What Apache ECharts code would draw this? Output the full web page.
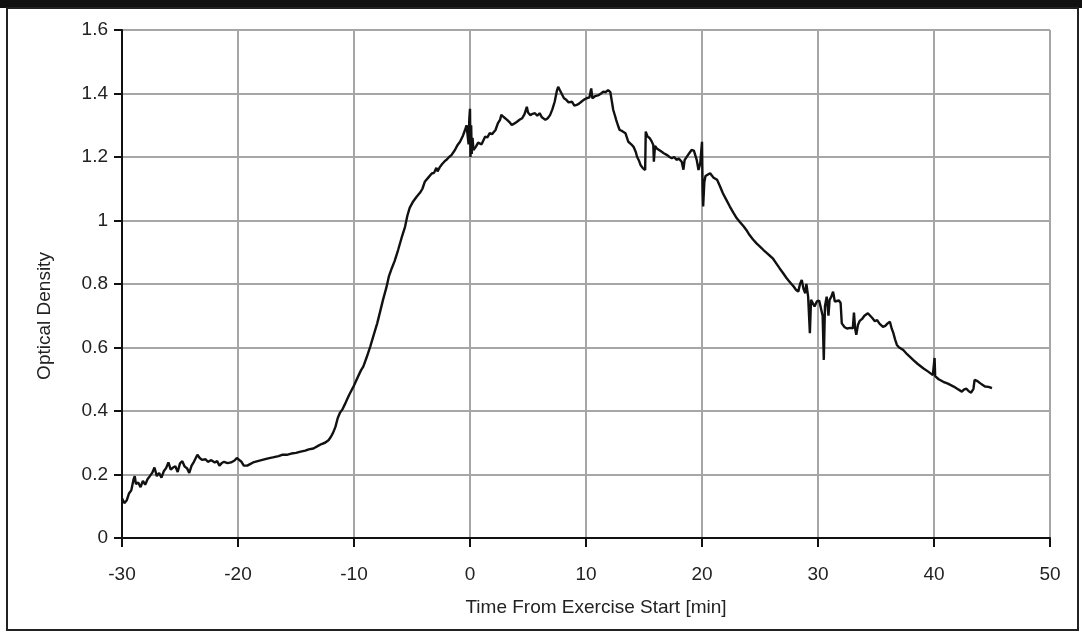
<!DOCTYPE html>
<html>
<head>
<meta charset="utf-8">
<script src="https://cdn.jsdelivr.net/npm/echarts@6/dist/echarts.min.js"></script>
<style>
  html, body { margin: 0; padding: 0; background: #fff; }
  #chart { width: 1082px; height: 632px; }
</style>
</head>
<body>
<div id="chart"></div>
<script>
// Time axis (minutes from exercise start) and measured optical density
const timeMin = [
  -30.0, -29.8, -29.6, -29.4, -29.2, -29.0, -28.9, -28.8, -28.6, -28.4, -28.2, -28.0,
  -27.8, -27.6, -27.4, -27.2, -27.0, -26.8, -26.6, -26.4, -26.2, -26.0, -25.8, -25.6,
  -25.4, -25.2, -25.0, -24.8, -24.6, -24.4, -24.2, -24.0, -23.8, -23.5, -23.3, -23.1,
  -22.8, -22.6, -22.3, -22.0, -21.8, -21.6, -21.4, -21.2, -20.9, -20.6, -20.3, -20.1,
  -19.9, -19.7, -19.5, -19.2, -19.0, -18.7, -18.3, -17.9, -17.4, -17.0, -16.5, -16.2,
  -15.8, -15.4, -15.0, -14.6, -14.2, -13.9, -13.5, -13.1, -12.8, -12.5, -12.2, -12.0,
  -11.8, -11.6, -11.4, -11.2, -11.0, -10.8, -10.6, -10.4, -10.2, -10.0, -9.7, -9.4,
  -9.2, -8.9, -8.6, -8.3, -8.0, -7.7, -7.5, -7.2, -7.0, -6.75, -6.5, -6.2,
  -5.9, -5.6, -5.4, -5.2, -4.9, -4.6, -4.3, -4.1, -3.9, -3.6, -3.3, -3.1,
  -2.9, -2.8, -2.6, -2.4, -2.2, -2.0, -1.8, -1.6, -1.3, -1.1, -0.86, -0.6,
  -0.43, -0.3, -0.2, -0.12, -0.06, 0.0, 0.04, 0.1, 0.15, 0.22, 0.3, 0.5,
  0.7, 0.86, 1.0, 1.3, 1.5, 1.7, 1.9, 2.2, 2.4, 2.6, 2.7, 2.9,
  3.2, 3.4, 3.6, 3.8, 4.05, 4.3, 4.5, 4.7, 4.9, 5.0, 5.2, 5.4,
  5.6, 5.8, 6.0, 6.2, 6.5, 6.7, 6.9, 7.1, 7.3, 7.5, 7.6, 7.75,
  7.9, 8.1, 8.3, 8.5, 8.8, 9.0, 9.2, 9.4, 9.6, 9.8, 10.05, 10.3,
  10.45, 10.55, 10.8, 11.1, 11.3, 11.5, 11.7, 11.9, 12.1, 12.2, 12.35, 12.5,
  12.6, 12.75, 12.9, 13.1, 13.4, 13.65, 13.9, 14.1, 14.3, 14.4, 14.55, 14.7,
  14.9, 15.1, 15.15, 15.3, 15.5, 15.65, 15.8, 15.85, 15.95, 16.1, 16.3, 16.5,
  16.7, 17.0, 17.2, 17.4, 17.6, 17.8, 18.0, 18.25, 18.4, 18.5, 18.7, 18.9,
  19.1, 19.3, 19.4, 19.55, 19.7, 19.85, 20.0, 20.05, 20.1, 20.2, 20.3, 20.45,
  20.7, 20.8, 21.0, 21.3, 21.55, 21.8, 22.1, 22.4, 22.7, 23.0, 23.3, 23.6,
  23.9, 24.1, 24.4, 24.7, 25.0, 25.3, 25.6, 25.85, 26.1, 26.4, 26.7, 27.0,
  27.3, 27.6, 27.9, 28.1, 28.3, 28.45, 28.6, 28.75, 28.9, 29.0, 29.15, 29.3,
  29.4, 29.55, 29.7, 29.9, 30.1, 30.2, 30.4, 30.5, 30.6, 30.75, 30.9, 31.0,
  31.15, 31.3, 31.45, 31.6, 31.8, 31.95, 32.05, 32.3, 32.5, 32.8, 33.0, 33.1,
  33.2, 33.3, 33.45, 33.6, 33.8, 34.0, 34.3, 34.5, 34.7, 34.9, 35.1, 35.3,
  35.6, 35.8, 36.0, 36.2, 36.35, 36.5, 36.65, 36.8, 37.0, 37.35, 37.7, 38.0,
  38.2, 38.6, 39.1, 39.5, 39.9, 40.0, 40.05, 40.1, 40.4, 40.8, 41.2, 41.7,
  42.0, 42.4, 42.6, 42.8, 43.0, 43.2, 43.4, 43.5, 43.7, 44.0, 44.2, 44.4,
  44.7, 45.0
];

const opticalDensity = [
  0.125, 0.110, 0.118, 0.140, 0.150, 0.185, 0.195, 0.170, 0.175, 0.160, 0.180, 0.168,
  0.185, 0.195, 0.205, 0.222, 0.195, 0.205, 0.190, 0.210, 0.220, 0.238, 0.215, 0.222,
  0.226, 0.208, 0.235, 0.242, 0.225, 0.220, 0.205, 0.228, 0.240, 0.262, 0.252, 0.246,
  0.248, 0.240, 0.245, 0.238, 0.242, 0.228, 0.236, 0.240, 0.236, 0.238, 0.244, 0.252,
  0.246, 0.240, 0.228, 0.228, 0.232, 0.238, 0.242, 0.246, 0.251, 0.254, 0.258, 0.262,
  0.262, 0.266, 0.268, 0.272, 0.275, 0.279, 0.282, 0.290, 0.296, 0.300, 0.308, 0.318,
  0.332, 0.350, 0.378, 0.395, 0.405, 0.420, 0.436, 0.452, 0.466, 0.480, 0.505, 0.528,
  0.540, 0.570, 0.603, 0.640, 0.676, 0.720, 0.750, 0.790, 0.823, 0.849, 0.872, 0.907,
  0.945, 0.980, 1.015, 1.040, 1.060, 1.075, 1.088, 1.100, 1.122, 1.135, 1.148, 1.150,
  1.166, 1.155, 1.168, 1.178, 1.186, 1.192, 1.200, 1.206, 1.222, 1.236, 1.248, 1.268,
  1.285, 1.300, 1.305, 1.240, 1.320, 1.352, 1.200, 1.300, 1.210, 1.260, 1.222, 1.232,
  1.245, 1.248, 1.240, 1.264, 1.262, 1.275, 1.272, 1.285, 1.306, 1.318, 1.333, 1.326,
  1.317, 1.310, 1.301, 1.305, 1.311, 1.318, 1.322, 1.335, 1.358, 1.340, 1.332, 1.336,
  1.338, 1.330, 1.338, 1.325, 1.317, 1.322, 1.332, 1.350, 1.374, 1.410, 1.421, 1.410,
  1.406, 1.385, 1.380, 1.372, 1.374, 1.362, 1.364, 1.368, 1.374, 1.380, 1.385, 1.388,
  1.416, 1.385, 1.392, 1.395, 1.400, 1.406, 1.404, 1.411, 1.404, 1.400, 1.348, 1.330,
  1.317, 1.300, 1.285, 1.282, 1.275, 1.248, 1.240, 1.232, 1.215, 1.201, 1.190, 1.175,
  1.165, 1.159, 1.280, 1.265, 1.259, 1.250, 1.238, 1.185, 1.235, 1.227, 1.222, 1.217,
  1.212, 1.206, 1.200, 1.196, 1.200, 1.191, 1.195, 1.185, 1.160, 1.190, 1.201, 1.212,
  1.222, 1.220, 1.217, 1.190, 1.159, 1.180, 1.248, 1.100, 1.044, 1.120, 1.140, 1.136,
  1.149, 1.143, 1.135, 1.128, 1.108, 1.086, 1.065, 1.044, 1.025, 1.007, 0.994, 0.981,
  0.966, 0.954, 0.940, 0.928, 0.918, 0.907, 0.897, 0.889, 0.881, 0.865, 0.849, 0.834,
  0.818, 0.805, 0.792, 0.782, 0.776, 0.800, 0.813, 0.785, 0.771, 0.800, 0.760, 0.645,
  0.750, 0.740, 0.729, 0.745, 0.748, 0.750, 0.700, 0.561, 0.730, 0.760, 0.700, 0.750,
  0.760, 0.776, 0.745, 0.739, 0.748, 0.740, 0.676, 0.664, 0.660, 0.662, 0.660, 0.710,
  0.660, 0.640, 0.672, 0.684, 0.690, 0.700, 0.708, 0.700, 0.692, 0.683, 0.686, 0.675,
  0.665, 0.668, 0.676, 0.681, 0.660, 0.645, 0.625, 0.608, 0.600, 0.592, 0.578, 0.568,
  0.561, 0.548, 0.534, 0.524, 0.513, 0.513, 0.567, 0.510, 0.500, 0.492, 0.486, 0.477,
  0.470, 0.461, 0.468, 0.470, 0.462, 0.458, 0.470, 0.498, 0.495, 0.487, 0.482, 0.477,
  0.476, 0.472
];

const xTitle = 'Time From Exercise Start [min]';
const yTitle = 'Optical Density';

const FONT = '"Liberation Sans", Arial, sans-serif';
const chart = echarts.init(document.getElementById('chart'), null, { renderer: 'canvas' });

chart.setOption({
  animation: false,
  backgroundColor: '#ffffff',
  grid: { left: 122, top: 30, right: 32, bottom: 94, containLabel: false },
  xAxis: {
    type: 'value',
    min: -30, max: 50, interval: 10,
    axisLine: { show: true, onZero: false, lineStyle: { color: '#111', width: 2 } },
    axisTick: { show: true, inside: false, length: 9, lineStyle: { color: '#111', width: 2 } },
    axisLabel: { margin: 27, color: '#222', fontSize: 19, fontFamily: FONT },
    splitLine: { show: true, lineStyle: { color: '#a6a6a6', width: 2 } }
  },
  yAxis: {
    type: 'value',
    min: 0, max: 1.6, interval: 0.2,
    axisLine: { show: true, onZero: false, lineStyle: { color: '#111', width: 2 } },
    axisTick: { show: true, inside: false, length: 8, lineStyle: { color: '#111', width: 2 } },
    axisLabel: {
      margin: 14, color: '#222', fontSize: 19, fontFamily: FONT,
      formatter: v => String(+v.toFixed(1))
    },
    splitLine: { show: true, lineStyle: { color: '#a6a6a6', width: 2 } }
  },
  graphic: [
    // dark band along the top edge and the outer frame
    { type: 'rect', left: 0, top: 0, shape: { width: 1082, height: 8 }, style: { fill: '#111' }, z: 0 },
    { type: 'rect', shape: { x: 7, y: 8, width: 1071, height: 622 },
      style: { fill: 'none', stroke: '#222', lineWidth: 2 }, z: 0, silent: true },
    { type: 'text', x: 596, y: 608,
      style: { text: xTitle, fill: '#222', font: '19px ' + FONT, align: 'center', verticalAlign: 'middle' } },
    { type: 'text', x: 45, y: 316, rotation: Math.PI / 2,
      style: { text: yTitle, fill: '#222', font: '19px ' + FONT, align: 'center', verticalAlign: 'middle' } }
  ],
  series: [{
    type: 'line',
    data: timeMin.map((t, i) => [t, opticalDensity[i]]),
    showSymbol: false,
    lineStyle: { color: '#111', width: 2.4 },
    z: 5
  }]
});
</script>
</body>
</html>
